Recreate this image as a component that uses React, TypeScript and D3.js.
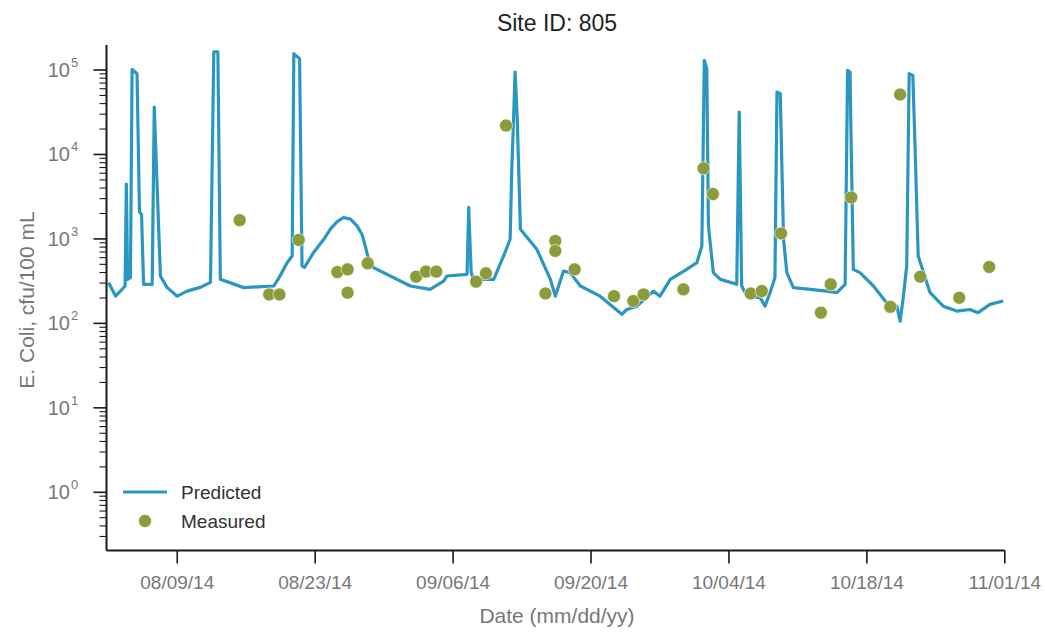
import React from "react";
import * as d3 from "d3";

const predDates: string[] = [
  "2014-08-02T01", "2014-08-02T18", "2014-08-03T17", "2014-08-03T20", "2014-08-03T23",
  "2014-08-04T06", "2014-08-04T10", "2014-08-04T22", "2014-08-05T04", "2014-08-05T09",
  "2014-08-05T14", "2014-08-06T11", "2014-08-06T16", "2014-08-07T07", "2014-08-07T23",
  "2014-08-09T00", "2014-08-10T00", "2014-08-11T08", "2014-08-12T09", "2014-08-12T17",
  "2014-08-13T03", "2014-08-13T09", "2014-08-15T18", "2014-08-18T19", "2014-08-19T07",
  "2014-08-19T19", "2014-08-20T04", "2014-08-20T16", "2014-08-20T20", "2014-08-21T10",
  "2014-08-21T16", "2014-08-21T22", "2014-08-22T20", "2014-08-23T21", "2014-08-24T13",
  "2014-08-25T05", "2014-08-25T21", "2014-08-26T14", "2014-08-27T06", "2014-08-27T18",
  "2014-08-28T02", "2014-08-28T08", "2014-08-28T22", "2014-09-01T16", "2014-09-03T16",
  "2014-09-05T01", "2014-09-05T09", "2014-09-07T10", "2014-09-07T14", "2014-09-07T20",
  "2014-09-08T02", "2014-09-10T03", "2014-09-11T03", "2014-09-11T19", "2014-09-11T23",
  "2014-09-12T03", "2014-09-12T07", "2014-09-12T12", "2014-09-12T20", "2014-09-14T12",
  "2014-09-15T21", "2014-09-16T09", "2014-09-17T05", "2014-09-17T21", "2014-09-18T22",
  "2014-09-20T22", "2014-09-23T03", "2014-09-23T15", "2014-09-24T16", "2014-09-26T08",
  "2014-09-27T00", "2014-09-28T01", "2014-09-29T17", "2014-09-30T18", "2014-10-01T06",
  "2014-10-01T12", "2014-10-01T18", "2014-10-01T22", "2014-10-02T10", "2014-10-03T03",
  "2014-10-04T19", "2014-10-05T01", "2014-10-05T07", "2014-10-05T20", "2014-10-07T04",
  "2014-10-07T16", "2014-10-08T04", "2014-10-08T16", "2014-10-08T21", "2014-10-09T05",
  "2014-10-09T13", "2014-10-09T21", "2014-10-10T13", "2014-10-12T06", "2014-10-13T22",
  "2014-10-14T23", "2014-10-15T19", "2014-10-16T01", "2014-10-16T07", "2014-10-16T09",
  "2014-10-16T15", "2014-10-17T07", "2014-10-18T16", "2014-10-20T00", "2014-10-21T01",
  "2014-10-21T09", "2014-10-21T17", "2014-10-22T01", "2014-10-22T07", "2014-10-22T16",
  "2014-10-22T21", "2014-10-23T05", "2014-10-24T10", "2014-10-25T18", "2014-10-27T03",
  "2014-10-28T11", "2014-10-29T07", "2014-10-30T12", "2014-10-31T20",
];

const predValues: number[] = [
  303, 210, 277, 4460, 330,
  350, 101600, 90400, 2100, 1950,
  290, 290, 36400, 364, 267,
  210, 241, 267, 306, 163700,
  163700, 332, 265, 277, 340,
  436, 525, 628, 156300, 136200,
  478, 461, 689, 991, 1304,
  1592, 1795, 1714, 1426, 1137,
  826, 628, 457, 277, 253,
  317, 364, 381, 2360, 399,
  332, 332, 628, 991, 6730,
  24100, 94700, 28900, 1304, 755,
  332, 210, 417, 399, 277,
  210, 128, 146, 160, 241,
  210, 332, 436, 525, 826,
  130000, 103500, 1426, 399, 332,
  290, 31700, 277, 210, 201,
  160, 231, 348, 54800, 52400,
  991, 399, 265, 253, 241,
  231, 290, 98900, 94700, 22000,
  436, 399, 277, 176, 160,
  106, 210, 478, 90400, 86300,
  13960, 628, 231, 160, 140,
  146, 134, 168, 184,
];

const measDates: string[] = [
  "2014-08-15T08", "2014-08-18T08", "2014-08-19T09", "2014-08-21T08", "2014-08-25T06",
  "2014-08-26T07", "2014-08-26T07", "2014-08-28T08", "2014-09-02T06", "2014-09-03T06",
  "2014-09-04T07", "2014-09-08T08", "2014-09-09T08", "2014-09-11T09", "2014-09-15T09",
  "2014-09-16T09", "2014-09-16T09", "2014-09-18T08", "2014-09-22T08", "2014-09-24T07",
  "2014-09-25T08", "2014-09-29T09", "2014-10-01T10", "2014-10-02T09", "2014-10-06T05",
  "2014-10-07T08", "2014-10-09T07", "2014-10-13T08", "2014-10-14T08", "2014-10-16T10",
  "2014-10-20T09", "2014-10-21T09", "2014-10-23T10", "2014-10-27T09", "2014-10-30T10",
];

const measValues: number[] = [
  1668, 220, 220, 973, 405,
  436, 231, 514, 357, 410,
  410, 312, 392, 22000, 226,
  947, 720, 436, 210, 184,
  220, 253, 6860, 3400, 226,
  241, 1160, 134, 290, 3100,
  157, 51300, 357, 201, 465,
];

const xTickLabels: string[] = ["08/09/14", "08/23/14", "09/06/14", "09/20/14", "10/04/14", "10/18/14", "11/01/14"];
const yTickExponents: number[] = [0, 1, 2, 3, 4, 5];

const parse = d3.utcParse("%Y-%m-%dT%H");
const parseTick = d3.utcParse("%m/%d/%y");

const W = 1045;
const H = 635;
const LEFT = 106.5;
const RIGHT = 1004.8;
const TOP = 45;
const BOTTOM = 550.5;

const LINE_COLOR = "#2a97c2";
const DOT_COLOR = "#8c9c3a";
const FONT = "'Liberation Sans', Arial, sans-serif";

export default function App() {
  const x = d3
    .scaleUtc()
    .domain([new Date(Date.UTC(2014, 7, 1, 19, 40)), new Date(Date.UTC(2014, 10, 1))])
    .range([LEFT, RIGHT]);
  const y = d3.scaleLog().domain([0.2046, 197700]).range([BOTTOM, TOP]);

  const pred = predDates.map((d, i) => ({ t: parse(d) as Date, v: predValues[i] }));
  const meas = measDates.map((d, i) => ({ t: parse(d) as Date, v: measValues[i] }));

  const line = d3
    .line<{ t: Date; v: number }>()
    .x((d) => x(d.t))
    .y((d) => y(d.v));

  const minorTicks: number[] = [];
  for (let e = -1; e <= 5; e++) {
    for (let m = 2; m <= 9; m++) {
      const v = m * Math.pow(10, e);
      if (v >= 0.2046 && v <= 197700) minorTicks.push(v);
    }
  }

  return (
    <svg
      width={W}
      height={H}
      style={{ position: "absolute", left: 0, top: 0, background: "#fff" }}
      fontFamily={FONT}
    >
      <rect x={0} y={0} width={W} height={H} fill="#fff" />
      <text x={557} y={31} textAnchor="middle" fontSize={23} fill="#222">
        Site ID: 805
      </text>

      {/* predicted line */}
      <path d={line(pred) || ""} fill="none" stroke={LINE_COLOR} strokeWidth={3.2} strokeLinejoin="round" />

      {/* measured dots */}
      {meas.map((d, i) => (
        <circle key={i} cx={x(d.t)} cy={y(d.v)} r={6.5} fill={DOT_COLOR} stroke="#fff" strokeWidth={0.6} />
      ))}

      {/* axes */}
      <line x1={LEFT} x2={LEFT} y1={TOP} y2={BOTTOM} stroke="#1a1a1a" strokeWidth={2} />
      <line x1={LEFT} x2={RIGHT} y1={BOTTOM} y2={BOTTOM} stroke="#1a1a1a" strokeWidth={2} />

      {yTickExponents.map((e) => {
        const yy = y(Math.pow(10, e));
        return (
          <g key={e}>
            <line x1={LEFT - 13} x2={LEFT} y1={yy} y2={yy} stroke="#1a1a1a" strokeWidth={1.6} />
            <text x={70} y={yy + 7} textAnchor="end" fontSize={20} fill="#777">
              10
            </text>
            <text x={71} y={yy - 3} textAnchor="start" fontSize={13} fill="#777">
              {e}
            </text>
          </g>
        );
      })}
      {minorTicks.map((v, i) => (
        <line key={i} x1={LEFT - 7} x2={LEFT} y1={y(v)} y2={y(v)} stroke="#1a1a1a" strokeWidth={1.1} />
      ))}

      {xTickLabels.map((lab) => {
        const xx = x(parseTick(lab) as Date);
        return (
          <g key={lab}>
            <line x1={xx} x2={xx} y1={BOTTOM} y2={BOTTOM + 13} stroke="#1a1a1a" strokeWidth={1.6} />
            <text x={xx} y={BOTTOM + 38} textAnchor="middle" fontSize={19} fill="#777">
              {lab}
            </text>
          </g>
        );
      })}

      <text x={557} y={623} textAnchor="middle" fontSize={21} fill="#777">
        Date (mm/dd/yy)
      </text>
      <text
        transform={`translate(34, ${300}) rotate(-90)`}
        textAnchor="middle"
        fontSize={21}
        fill="#777"
      >
        E. Coli, cfu/100 mL
      </text>

      {/* legend */}
      <line x1={123} x2={167} y1={492} y2={492} stroke={LINE_COLOR} strokeWidth={3.2} />
      <text x={181} y={499} fontSize={19} fill="#333">
        Predicted
      </text>
      <circle cx={145} cy={521} r={6.5} fill={DOT_COLOR} stroke="#fff" strokeWidth={0.6} />
      <text x={181} y={528} fontSize={19} fill="#333">
        Measured
      </text>
    </svg>
  );
}
